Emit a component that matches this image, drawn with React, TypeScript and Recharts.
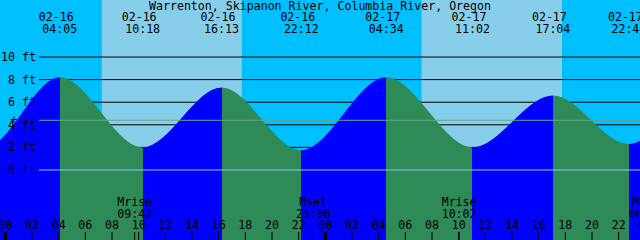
import React from 'react';
import { AreaChart, Area, XAxis, YAxis, ReferenceArea, ReferenceLine } from 'recharts';

// tide extremes (the outer ones lie outside the visible window)
const tideDates = ['02-15', '02-15', '02-16', '02-16', '02-16', '02-16', '02-17', '02-17', '02-17', '02-17', '02-18', '02-18'];
const tideTimes = ['15:40', '22:30', '04:05', '10:18', '16:13', '22:12', '04:34', '11:02', '17:04', '22:46', '05:10', '11:40'];
const tideHeights = [7.4, 2.0, 8.2, 2.0, 7.3, 1.75, 8.2, 2.0, 6.6, 2.3, 8.1, 2.0];

const sunDates = ['02-16', '02-17'];
const sunrises = ['07:14', '07:13'];
const sunsets = ['17:44', '17:45'];

const moonDates = ['02-16', '02-16', '02-17', '02-18'];
const moonTimes = ['09:42', '23:06', '10:02', '00:04'];
const moonEvents = ['Mrise', 'Mset', 'Mrise', 'Mset'];

// hours since 02-16 00:00
const hourTicks = [0, 2, 4, 6, 8, 10, 12, 14, 16, 18, 20, 22, 24, 26, 28, 30, 32, 34, 36, 38, 40, 42, 44, 46, 48];
const heightTicks = [0, 2, 4, 6, 8, 10];
const meanLevel = 4.4;

const title = 'Warrenton, Skipanon River, Columbia River, Oregon';

const NIGHT = '#00BFFF';
const DAY = '#87CEEB';
const RISING = '#0000FF';
const FALLING = '#2E8B57';
const FONT = { fontFamily: '"DejaVu Sans Mono", monospace', fontSize: 11.6, fill: '#000' };

const toHours = (date: string, time: string) => {
  const day = parseInt(date.slice(3), 10) - 16;
  const [hh, mm] = time.split(':').map(Number);
  return day * 24 + hh + mm / 60;
};

const tideRows = tideDates.map((d, i) => ({ t: toHours(d, tideTimes[i]), h: tideHeights[i] }));
const shownTides = tideRows.slice(2, tideRows.length - 2).map((r) => r.t);
const moonHours = moonDates.map((d, i) => toHours(d, moonTimes[i]));

const tFirst = tideRows[0].t;
const tSpan = tideRows[tideRows.length - 1].t - tFirst;

const findIdx = (arr: number[], v: number) => arr.findIndex((a) => Math.abs(a - v) < 1e-6);

const HourTick = (props: any) => {
  const { x, payload } = props;
  const v = payload.value as number;
  const label = String(v % 24).padStart(2, '0');
  return (
    <g>
      <text x={x} y={229} textAnchor="middle" style={FONT}>{label}</text>
      <line x1={x} x2={x} y1={232} y2={240} stroke="#000" strokeWidth={v % 24 === 0 ? 3 : 1} />
    </g>
  );
};

const TideTick = (props: any) => {
  const { x, payload } = props;
  const i = findIdx(tideRows.map((r) => r.t), payload.value);
  if (i < 0) return null;
  return (
    <g>
      <text x={x - 3.5} y={21} textAnchor="middle" style={FONT}>{tideDates[i]}</text>
      <text x={x} y={33} textAnchor="middle" style={FONT}>{tideTimes[i]}</text>
    </g>
  );
};

const MoonTick = (props: any) => {
  const { x, payload } = props;
  const i = findIdx(moonHours, payload.value);
  if (i < 0) return null;
  return (
    <g>
      <text x={x} y={206} textAnchor="middle" style={FONT}>{moonEvents[i]}</text>
      <text x={x} y={218} textAnchor="middle" style={FONT}>{moonTimes[i]}</text>
      <line x1={x} x2={x} y1={232} y2={240} stroke="#000" strokeWidth={1} />
    </g>
  );
};

const HeightTick = (props: any) => {
  const { y, payload } = props;
  return (
    <text x={36} y={y + 4} textAnchor="end" style={FONT}>{`${payload.value} ft`}</text>
  );
};

// horizontal rule that starts right of the height labels
const ruleShape = (color: string, plus = false) => (p: any) => {
  const y = Number(p.y1);
  if (!Number.isFinite(y) || y < 2) return <g />;
  return (
    <g>
      <line x1={39} y1={y} x2={p.x2} y2={y} stroke={color} strokeWidth={1} />
      {plus && <text x={14} y={y + 4} textAnchor="middle" style={FONT}>+</text>}
    </g>
  );
};

// chart title, centred over the plot
const titleShape = (p: any) => (
  <text x={(Number(p.x1) + Number(p.x2)) / 2} y={10} textAnchor="middle" style={FONT}>{title}</text>
);

export default function App() {
  const xDomain: [number, number] = [-0.4, 47.6];
  const yDomain: [number, number] = [-6.2, 15.05];

  const stops: React.ReactNode[] = [];
  for (let i = 0; i < tideRows.length - 1; i++) {
    const color = tideRows[i + 1].h > tideRows[i].h ? RISING : FALLING;
    const o1 = (tideRows[i].t - tFirst) / tSpan;
    const o2 = (tideRows[i + 1].t - tFirst) / tSpan;
    stops.push(<stop key={`a${i}`} offset={o1} stopColor={color} />);
    stops.push(<stop key={`b${i}`} offset={o2} stopColor={color} />);
  }

  return (
    <div style={{ position: 'absolute', left: 0, top: 0, width: 640, height: 240, background: NIGHT, overflow: 'hidden' }}>
      <AreaChart width={640} height={240} data={tideRows} margin={{ top: -1, right: 0, bottom: -2, left: -1 }}>
        <defs>
          <linearGradient id="tideFill" x1="0" y1="0" x2="1" y2="0">
            {stops}
          </linearGradient>
        </defs>
        {sunDates.map((d, i) => (
          <ReferenceArea
            key={d}
            xAxisId="hours"
            yAxisId="ft"
            x1={toHours(d, sunrises[i])}
            x2={toHours(d, sunsets[i])}
            fill={DAY}
            fillOpacity={1}
            stroke="none"
            zIndex={-200}
          />
        ))}
        {heightTicks.slice(1).map((v) => (
          <ReferenceLine key={v} xAxisId="hours" yAxisId="ft" y={v} zIndex={-100} shape={ruleShape('#000')} />
        ))}
        <Area
          xAxisId="hours"
          yAxisId="ft"
          type="monotone"
          dataKey="h"
          fill="url(#tideFill)"
          fillOpacity={1}
          stroke="none"
          baseValue={yDomain[0]}
          dot={false}
          activeDot={false}
          isAnimationActive={false}
        />
        <ReferenceLine xAxisId="hours" yAxisId="ft" y={0} zIndex={450} shape={ruleShape('#87CEEB')} />
        <ReferenceLine xAxisId="hours" yAxisId="ft" y={meanLevel} zIndex={450} shape={ruleShape('#5FA88E', true)} />
        <ReferenceLine xAxisId="hours" yAxisId="ft" y={10} zIndex={460} shape={titleShape} />
        <XAxis
          xAxisId="hours"
          dataKey="t"
          type="number"
          domain={xDomain}
          allowDataOverflow
          ticks={hourTicks}
          interval={0}
          height={1}
          axisLine={false}
          tickLine={false}
          tick={HourTick}
        />
        <XAxis
          xAxisId="moon"
          dataKey="t"
          type="number"
          domain={xDomain}
          allowDataOverflow
          ticks={moonHours}
          interval={0}
          height={1}
          axisLine={false}
          tickLine={false}
          tick={MoonTick}
        />
        <XAxis
          xAxisId="tides"
          orientation="top"
          dataKey="t"
          type="number"
          domain={xDomain}
          allowDataOverflow
          ticks={shownTides}
          interval={0}
          height={1}
          axisLine={false}
          tickLine={false}
          tick={TideTick}
        />
        <YAxis
          yAxisId="ft"
          type="number"
          domain={yDomain}
          allowDataOverflow
          ticks={heightTicks}
          interval={0}
          width={1}
          axisLine={false}
          tickLine={false}
          tick={HeightTick}
        />
      </AreaChart>
    </div>
  );
}
